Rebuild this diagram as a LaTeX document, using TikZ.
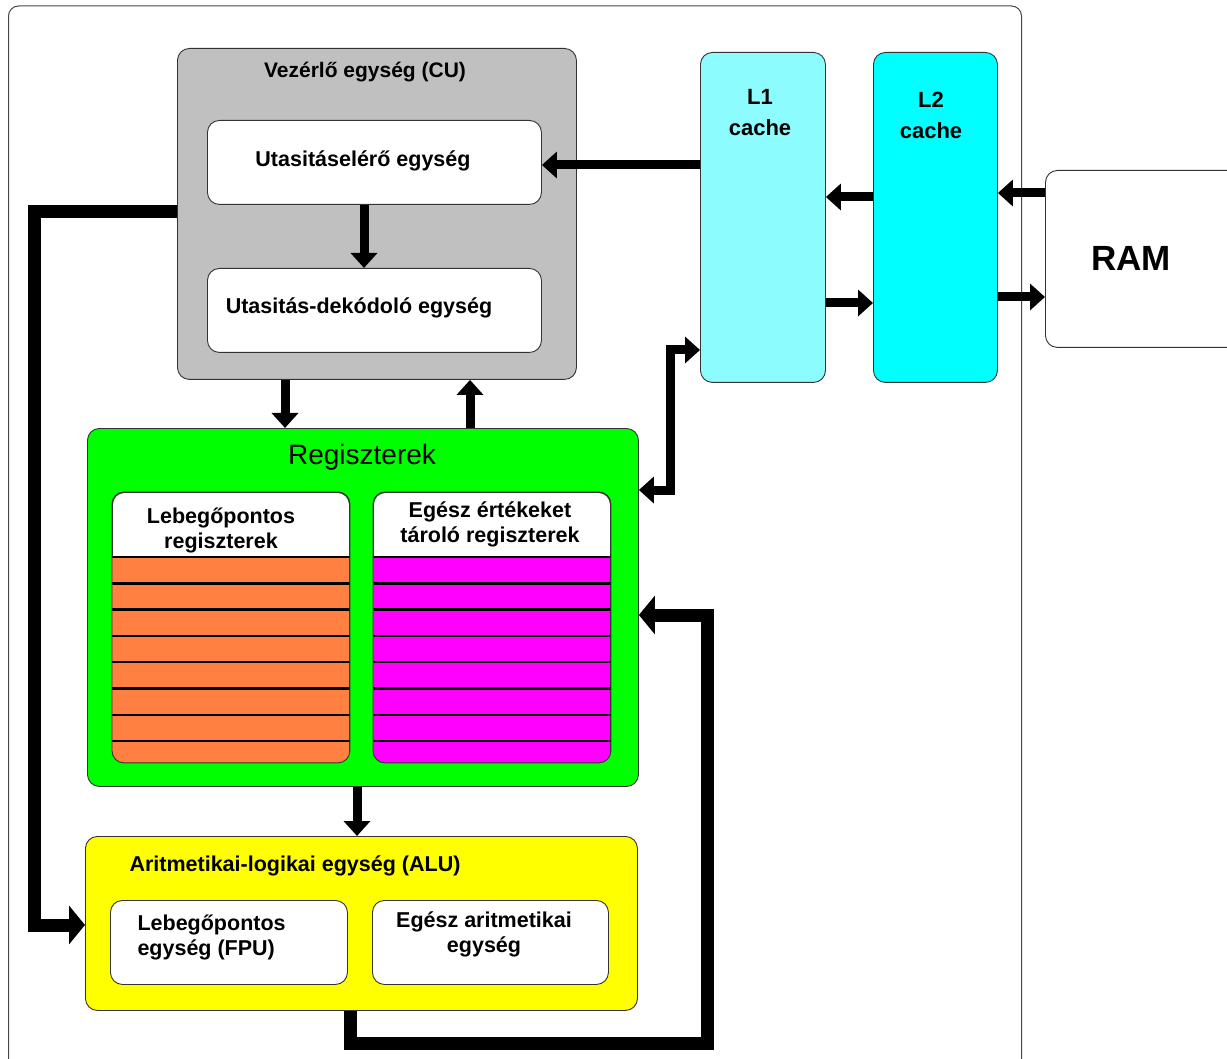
\documentclass[tikz,border=0pt]{standalone}
\usepackage{fontspec}
\setmainfont{Liberation Sans}
\setsansfont{Liberation Sans}
\usepackage{tikz}
\usetikzlibrary{positioning,arrows.meta}
\definecolor{cugray}{RGB}{192,192,192}
\definecolor{lonecyan}{RGB}{140,252,255}
\definecolor{ltwocyan}{RGB}{0,255,255}
\definecolor{reggreen}{RGB}{0,255,0}
\definecolor{fporange}{RGB}{255,128,64}
\definecolor{intmagenta}{RGB}{255,0,255}
\definecolor{aluyellow}{RGB}{255,255,0}
\definecolor{framegray}{RGB}{70,70,70}
\tikzset{
  unit/.style={draw=black!80, rounded corners=12pt, line width=0.9pt, inner sep=0pt},
  lbl/.style={font=\fontsize{21.5}{25}\selectfont\bfseries, align=center},
  fat/.style={line width=9pt, -{Triangle[width=26pt,length=15pt]}},
  fatboth/.style={line width=9pt, {Triangle[width=26pt,length=15pt]}-{Triangle[width=26pt,length=15pt]}},
  loopline/.style={line width=13pt, -{Triangle[width=38pt,length=16pt]}}
}
% box by its corners: name, x1, y1, x2, y2, fill, text
\newcommand{\blok}[7]{%
  \node[unit, fill=#6, anchor=north west, minimum width=#4pt-#2pt,
        minimum height=#5pt-#3pt, lbl] (#1) at (#2,#3) {#7};}
% register bank: name, x1, x2, colour
\newcommand{\bank}[4]{%
  \node[unit, fill=white, anchor=north west, minimum width=#3pt-#2pt,
        minimum height=270pt] (#1) at (#2,492) {};
  \begin{scope}
    \clip[rounded corners=12pt] (#1.north west) rectangle (#1.south east);
    \fill[#4] (#2,557) rectangle (#3,770);
  \end{scope}
  \foreach \i [evaluate=\i as \yy using 557+26.3*\i] in {0,...,7}
    \draw[line width=2.4pt] (#1.west |- 0,\yy) -- (#1.east |- 0,\yy);
  \draw[black!80, rounded corners=12pt, line width=0.9pt] (#1.north west) rectangle (#1.south east);}

\begin{document}
\begin{tikzpicture}[x=1pt, y=-1pt, font=\sffamily]
  \useasboundingbox (0,0) rectangle (1227,1059);
  \draw[framegray, line width=1pt, rounded corners=10pt] (8.5,6) rectangle (1021.5,1085);
  % control unit
  \blok{cu}{177}{48}{576}{379}{cugray}{}
  \node[lbl, font=\fontsize{21}{25}\selectfont\bfseries] (cutitle) at (365,72) {Vezérlő egység (CU)};
  \blok{fetch}{207}{120}{541}{204}{white}{}
  \node[lbl] (fetchtext) at (363,161) {Utasitáselérő egység};
  \blok{decode}{207}{268}{541}{352}{white}{}
  \node[lbl] (decodetext) at (359,308) {Utasitás-dekódoló egység};
  % caches and memory
  \blok{lone}{700}{52}{825}{382}{lonecyan}{}
  \node[lbl, font=\fontsize{22}{31}\selectfont\bfseries] (lonetext) at (760,113) {L1\\cache};
  \blok{ltwo}{873}{52}{997}{382}{ltwocyan}{}
  \node[lbl, font=\fontsize{22}{31}\selectfont\bfseries] (ltwotext) at (931,115) {L2\\cache};
  \blok{ram}{1045}{170}{1260}{347}{white}{}
  \node[font=\fontsize{35}{40}\selectfont\bfseries] (ramtext) at (1131,258) {RAM};
  % registers
  \blok{regs}{87}{428}{638}{786}{reggreen}{}
  \node[font=\fontsize{28}{32}\selectfont] (regtitle) at (362,457) {Regiszterek};
  \bank{fpregs}{112}{349}{fporange}
  \bank{intregs}{373}{610}{intmagenta}
  \node[lbl] (fpregstext) at (221,530) {Lebegőpontos\\regiszterek};
  \node[lbl] (intregstext) at (490,524) {Egész értékeket\\tároló regiszterek};
  % ALU
  \blok{alu}{85}{836}{637}{1010}{aluyellow}{}
  \node[lbl, anchor=west] (alutitle) at (126,866) {Aritmetikai-logikai egység (ALU)};
  \blok{fpu}{110}{900}{347}{984}{white}{}
  \node[lbl, align=left, anchor=west] (fputext) at (134,937) {Lebegőpontos\\egység (FPU)};
  \blok{intu}{372}{900}{608}{984}{white}{}
  \node[lbl] (intutext) at (484,934) {Egész aritmetikai\\egység};
  % connectors
  \draw[fat] (fetch.south -| 364,0) -- (decode.north -| 364,0);
  \draw[fat] (lone.west |- 0,165) -- (fetch.east |- 0,165);
  \draw[fat] (ltwo.west |- 0,197) -- (lone.east |- 0,197);
  \draw[fat] (lone.east |- 0,303) -- (ltwo.west |- 0,303);
  \draw[fat] (ram.west |- 0,193) -- (ltwo.east |- 0,193);
  \draw[fat] (ltwo.east |- 0,297) -- (ram.west |- 0,297);
  \draw[fat] (cu.south -| 285,0) -- (regs.north -| 285,0);
  \draw[fat] (regs.north -| 470,0) -- (cu.south -| 470,0);
  \draw[fat] (regs.south -| 357,0) -- (alu.north -| 357,0);
  \draw[fatboth] (lone.west |- 0,350) -| (670,490) -- (regs.east |- 0,490);
  \draw[loopline] (cu.west |- 0,212) -| (34,925) -- (alu.west |- 0,925);
  \draw[loopline] (alu.south -| 350,0) |- (707,1043) -- (707,615) -- (regs.east |- 0,615);
\end{tikzpicture}
\end{document}
